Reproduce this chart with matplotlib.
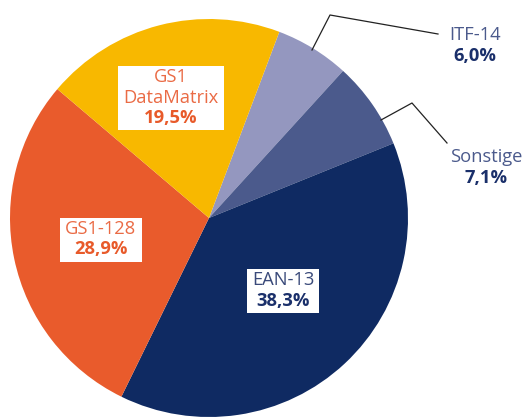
import matplotlib.pyplot as plt
from matplotlib.patches import Rectangle

# Data: share of barcode types (percent)
labels = ['ITF-14', 'Sonstige', 'EAN-13', 'GS1-128', 'GS1\nDataMatrix']
values = [6.0, 7.1, 38.3, 28.9, 19.5]
colors = ['#9497bf', '#4b5a8c', '#0f2a62', '#e95b2c', '#f8b800']
pct_labels = ['6,0%', '7,1%', '38,3%', '28,9%', '19,5%']

W, H = 527, 417
fig = plt.figure(figsize=(W / 100, H / 100), dpi=100)
ax = fig.add_axes([0, 0, 1, 1])

# pie centre and radius in pixel space (y from bottom)
cx, cy, r = 209, H - 218, 199
ax.pie(values, colors=colors, startangle=69.3, counterclock=False,
       center=(cx, cy), radius=r, frame=True,
       wedgeprops=dict(linewidth=0))
ax.set_xlim(0, W)
ax.set_ylim(0, H)
ax.set_aspect('equal')
ax.axis('off')

font = 'Open Sans'
fs = 13.2
step = 20.5  # line spacing in pixels


def py(y):
    return H - y


def stacked(x, y_top, lab, pct, c_name, c_pct, boxed):
    lines = lab.split('\n')
    texts = []
    for i, line in enumerate(lines):
        texts.append(ax.text(x, py(y_top + i * step), line, ha='center',
                             va='center', fontsize=fs, family=font,
                             color=c_name, zorder=5))
    texts.append(ax.text(x, py(y_top + len(lines) * step), pct, ha='center',
                         va='center', fontsize=fs, family=font, color=c_pct,
                         fontweight='bold', zorder=5))
    if boxed:
        fig.canvas.draw()
        rend = fig.canvas.get_renderer()
        ext = [t.get_window_extent(rend) for t in texts]
        x0 = min(e.x0 for e in ext) - 5
        x1 = max(e.x1 for e in ext) + 5
        y0 = py(y_top + len(lines) * step) - 12
        y1 = py(y_top) + 11
        ax.add_patch(Rectangle((x0, y0), x1 - x0, y1 - y0, fc='white',
                               ec='none', zorder=4))


# labels inside the big slices (name + bold percent)
inside = {
    'GS1\nDataMatrix': (171, 77, '#ea6b45', '#e85a2a'),
    'GS1-128': (101, 229, '#ea6b45', '#e85a2a'),
    'EAN-13': (283, 280, '#3a4a7a', '#1a2f6a'),
}
# outside labels with leader lines
outside = {
    'ITF-14': ((475, 35), [(312, 50), (330, 15), (438, 34)]),
    'Sonstige': ((486, 157), [(381, 120), (412, 103), (447, 143)]),
}

for lab, pct in zip(labels, pct_labels):
    if lab in inside:
        x, y, c_name, c_pct = inside[lab]
        stacked(x, y, lab, pct, c_name, c_pct, True)
    else:
        (x, y), pts = outside[lab]
        ax.plot([p[0] for p in pts], [py(p[1]) for p in pts],
                color='#222222', linewidth=0.9)
        stacked(x, y, lab, pct, '#4b5a8c', '#1a2f6a', False)

fig.savefig('out.png', dpi=100)
